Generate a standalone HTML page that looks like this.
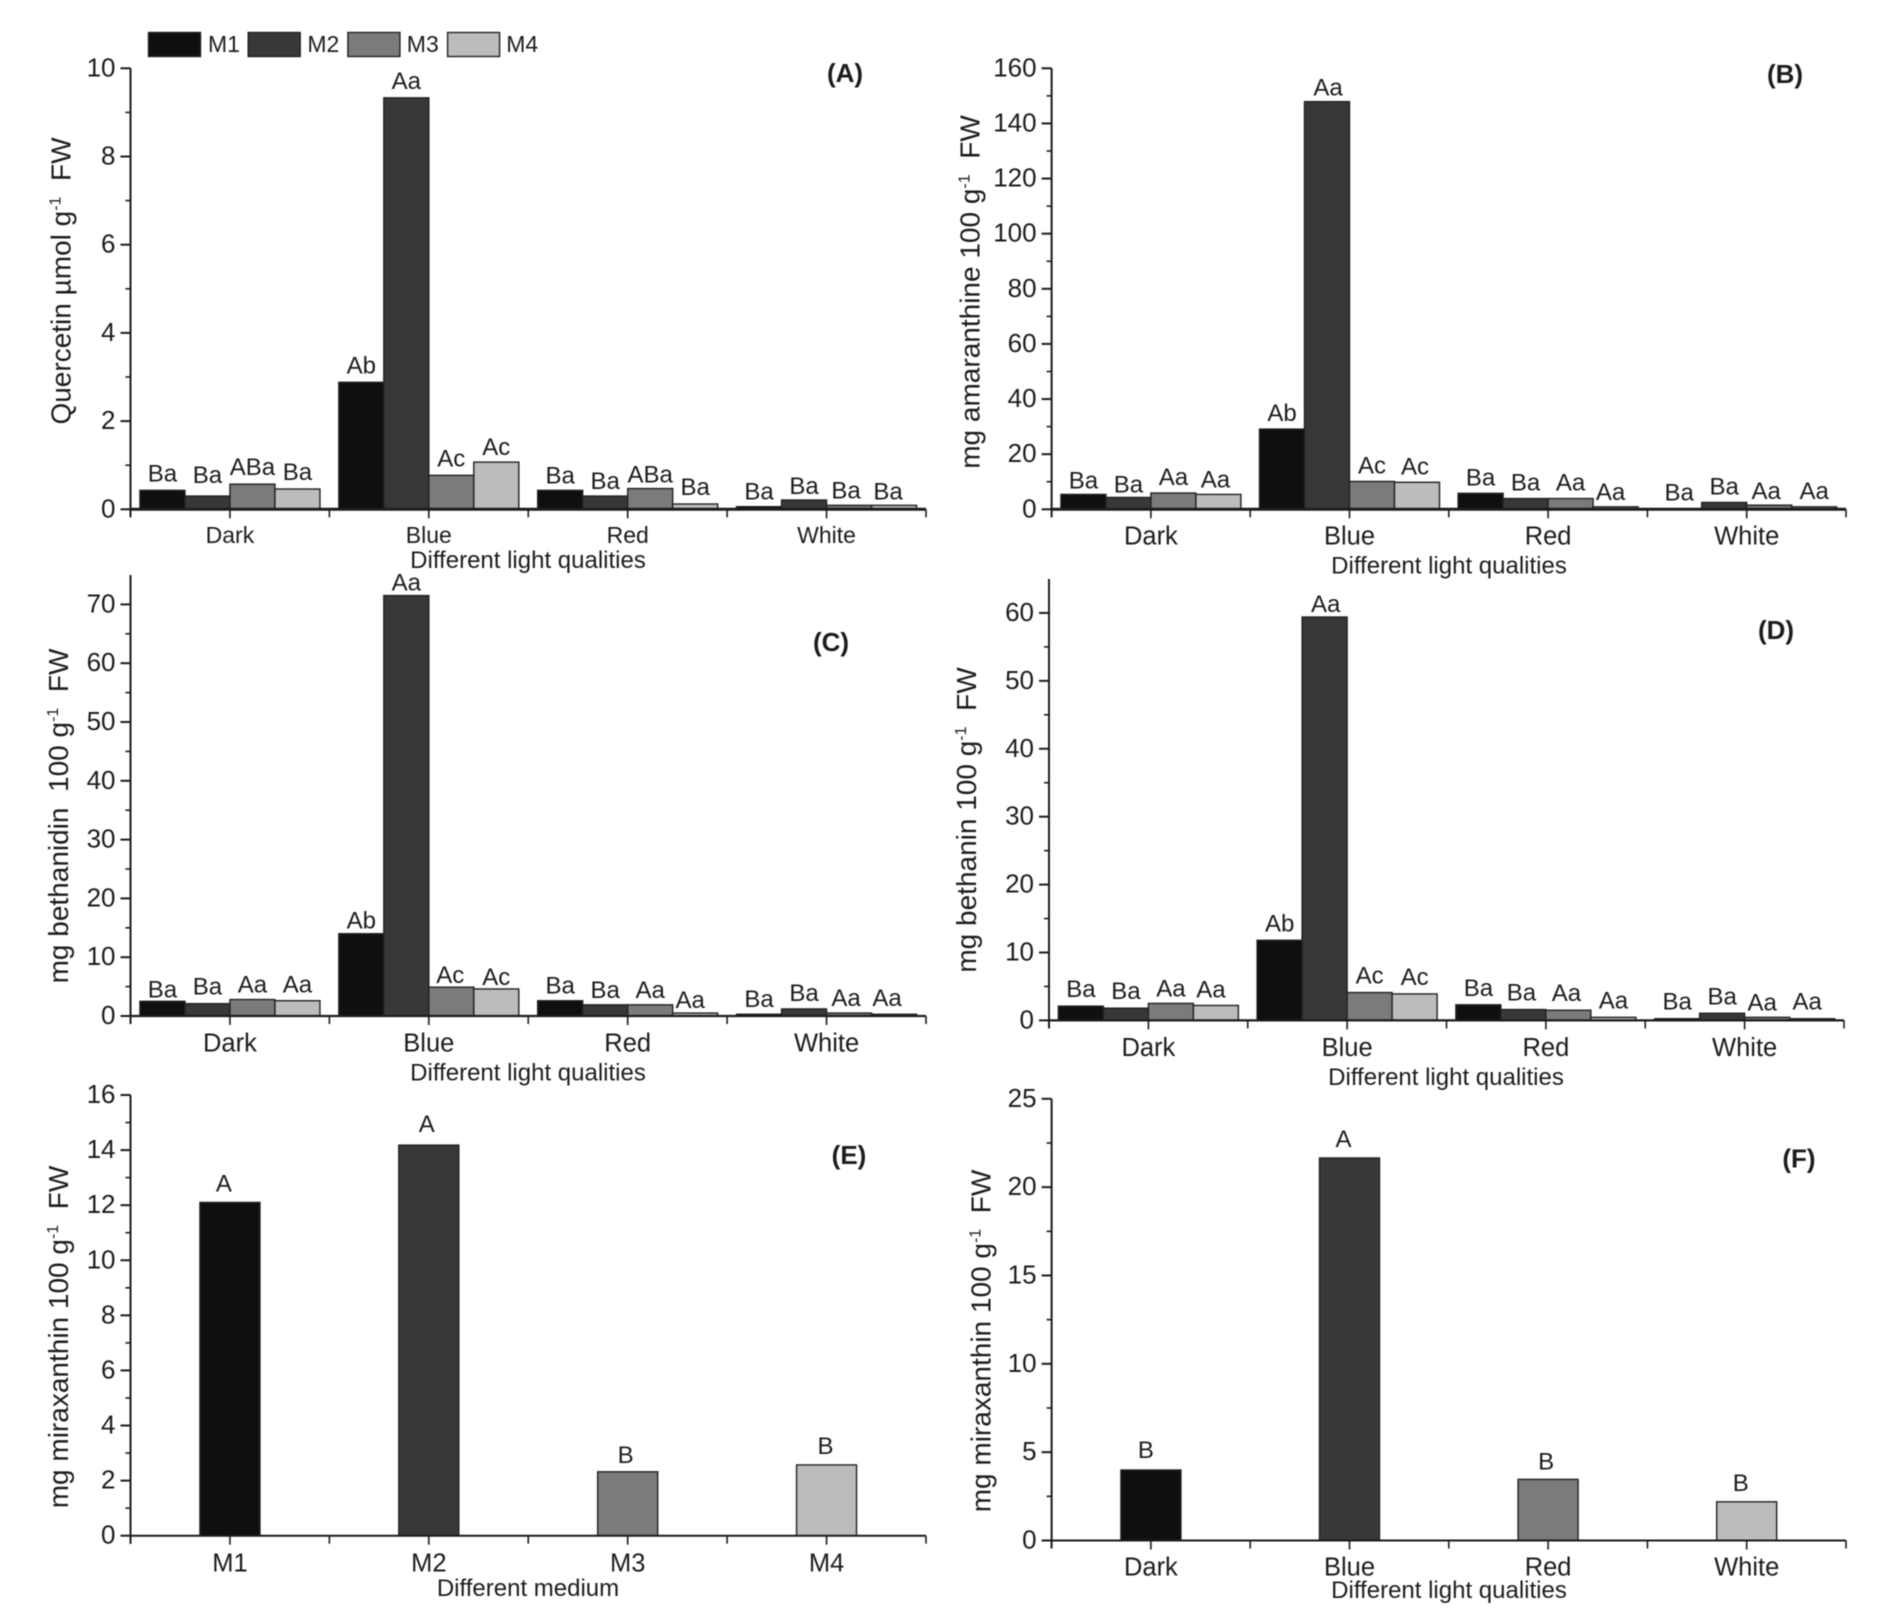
<!DOCTYPE html>
<html lang="en">
<head>
<meta charset="utf-8">
<title>Phytochemical content under different light qualities and media</title>
<style>
  html, body { margin: 0; padding: 0; background: #fff; }
  #figure { display: block; width: 1892px; height: 1616px; filter: blur(0.5px); }
  text { font-family: "Liberation Sans", Arial, sans-serif; fill: #1c1c1c; }
</style>
</head>
<body>
<svg id="figure" xmlns="http://www.w3.org/2000/svg" width="1892" height="1616" viewBox="0 0 1892 1616"></svg>
<script>
const lightCategories = ['Dark', 'Blue', 'Red', 'White'];
const mediumCategories = ['M1', 'M2', 'M3', 'M4'];
const seriesColors = ['#0f0f0d', '#383838', '#7a7b7d', '#bcbcba'];

const quercetinDark = [0.43, 0.30, 0.57, 0.46];
const quercetinBlue = [2.88, 9.33, 0.77, 1.07];
const quercetinRed = [0.43, 0.30, 0.47, 0.12];
const quercetinWhite = [0.06, 0.21, 0.09, 0.09];
const quercetinLabels = [['Ba', 'Ba', 'ABa', 'Ba'], ['Ab', 'Aa', 'Ac', 'Ac'], ['Ba', 'Ba', 'ABa', 'Ba'], ['Ba', 'Ba', 'Ba', 'Ba']];
const quercetinTicks = [0, 2, 4, 6, 8, 10];

const amaranthineDark = [5.4, 4.3, 5.9, 5.4];
const amaranthineBlue = [29.1, 147.9, 10.1, 9.8];
const amaranthineRed = [5.8, 3.9, 3.9, 0.9];
const amaranthineWhite = [0.2, 2.5, 1.5, 0.9];
const amaranthineLabels = [['Ba', 'Ba', 'Aa', 'Aa'], ['Ab', 'Aa', 'Ac', 'Ac'], ['Ba', 'Ba', 'Aa', 'Aa'], ['Ba', 'Ba', 'Aa', 'Aa']];
const amaranthineTicks = [0, 20, 40, 60, 80, 100, 120, 140, 160];

const bethanidinDark = [2.5, 2.1, 2.8, 2.6];
const bethanidinBlue = [14.0, 71.5, 4.9, 4.6];
const bethanidinRed = [2.6, 1.9, 1.9, 0.5];
const bethanidinWhite = [0.3, 1.2, 0.5, 0.3];
const bethanidinLabels = [['Ba', 'Ba', 'Aa', 'Aa'], ['Ab', 'Aa', 'Ac', 'Ac'], ['Ba', 'Ba', 'Aa', 'Aa'], ['Ba', 'Ba', 'Aa', 'Aa']];
const bethanidinTicks = [0, 10, 20, 30, 40, 50, 60, 70];

const bethaninDark = [2.1, 1.8, 2.5, 2.2];
const bethaninBlue = [11.8, 59.4, 4.1, 3.9];
const bethaninRed = [2.3, 1.6, 1.5, 0.45];
const bethaninWhite = [0.25, 1.05, 0.45, 0.25];
const bethaninLabels = [['Ba', 'Ba', 'Aa', 'Aa'], ['Ab', 'Aa', 'Ac', 'Ac'], ['Ba', 'Ba', 'Aa', 'Aa'], ['Ba', 'Ba', 'Aa', 'Aa']];
const bethaninTicks = [0, 10, 20, 30, 40, 50, 60];

const miraxanthinByMedium = [12.1, 14.18, 2.32, 2.57];
const miraxanthinMediumLabels = ['A', 'A', 'B', 'B'];
const miraxanthinMediumTicks = [0, 2, 4, 6, 8, 10, 12, 14, 16];

const miraxanthinByLight = [3.99, 21.65, 3.46, 2.19];
const miraxanthinLightLabels = ['B', 'A', 'B', 'B'];
const miraxanthinLightTicks = [0, 5, 10, 15, 20, 25];

const svg = document.getElementById('figure');
const NS = 'http://www.w3.org/2000/svg';

function make(tag, attrs, parent) {
  const el = document.createElementNS(NS, tag);
  for (const k in attrs) el.setAttribute(k, attrs[k]);
  parent.appendChild(el);
  return el;
}

function drawPanel(p) {
  const g = make('g', {}, svg);
  
  

  const yScale = v => p.y0 - v / p.yMax * (p.y0 - p.yTop);
  const catW = (p.x1 - p.x0) / p.categories.length;
  const catX = i => p.x0 + (i + 0.5) * catW;
  // hand-placed annotation offsets, keyed "category-bar"
  const shift = key => (p.shifts && p.shifts[key]) || [0, 0];

  // bars
  if (p.groups) {
    p.groups.forEach((vals, i) => {
      vals.forEach((v, j) => {
        const bx = catX(i) - p.barW * vals.length / 2 + j * p.barW;
        const bar = make('rect', { x: bx, y: yScale(v), width: p.barW, height: p.y0 - yScale(v), fill: seriesColors[j], stroke: '#222', 'stroke-width': 1.4 }, g);
        
        
        const s = shift(i + '-' + j);
        const lab = make('text', { x: bx + p.barW / 2 + s[0], y: yScale(v) - p.gap + s[1], 'font-size': 24, 'text-anchor': 'middle' }, g);
        lab.textContent = p.labels[i][j];
        
        
      });
    });
  } else {
    p.values.forEach((v, i) => {
      const bar = make('rect', { x: catX(i) - p.barW / 2, y: yScale(v), width: p.barW, height: p.y0 - yScale(v), fill: seriesColors[i], stroke: '#222', 'stroke-width': 1.4 }, g);
      
      
      const s = shift(String(i));
      const lab = make('text', { x: catX(i) - 6 + s[0], y: yScale(v) - p.gap + s[1], 'font-size': 24, 'text-anchor': 'middle' }, g);
      lab.textContent = p.labels[i];
      
      
    });
  }

  // axes
  const yAxis = make('line', { x1: p.x0, x2: p.x0, y1: p.yTop, y2: p.y0 + 8, stroke: '#1c1c1c', 'stroke-width': 2 }, g);
  
  
  const xAxis = make('line', { x1: p.x0, x2: p.x1, y1: p.y0, y2: p.y0, stroke: '#1c1c1c', 'stroke-width': p.axisW }, g);
  
  

  // y ticks
  p.ticks.forEach((t, i) => {
    const tk = make('line', { x1: p.x0 - 10, x2: p.x0, y1: yScale(t), y2: yScale(t), stroke: '#1c1c1c', 'stroke-width': 2 }, g);
    
    
    const lab = make('text', { x: p.x0 - 15, y: yScale(t) + 8, 'font-size': 26, 'text-anchor': 'end' }, g);
    lab.textContent = t;
    
    
    if (i < p.ticks.length - 1) {
      const mv = (t + p.ticks[i + 1]) / 2;
      const mk = make('line', { x1: p.x0 - 5, x2: p.x0, y1: yScale(mv), y2: yScale(mv), stroke: '#1c1c1c', 'stroke-width': 1.6 }, g);
      
      
    }
  });

  // x ticks and category labels
  for (let i = 0; i <= p.categories.length; i++) {
    const bt = make('line', { x1: p.x0 + i * catW, x2: p.x0 + i * catW, y1: p.y0, y2: p.y0 + 8, stroke: '#1c1c1c', 'stroke-width': 1.6 }, g);
    
    
  }
  p.categories.forEach((c, i) => {
    const tk = make('line', { x1: catX(i), x2: catX(i), y1: p.y0, y2: p.y0 + 9, stroke: '#1c1c1c', 'stroke-width': 1.6 }, g);
    
    
    const lab = make('text', { x: catX(i), y: p.catY, 'font-size': p.catSize, 'text-anchor': 'middle' }, g);
    lab.textContent = c;
    
    
  });

  // x axis title
  const xt = make('text', { x: p.xTitleX, y: p.xTitleY, 'font-size': 24, 'text-anchor': 'middle' }, g);
  xt.textContent = p.xTitle;
  
  

  // y axis title with superscript
  const yt = make('text', { x: p.yTitleX, y: p.yTitleY, 'font-size': 28, 'text-anchor': 'middle', transform: 'rotate(-90 ' + p.yTitleX + ' ' + p.yTitleY + ')', fill: '#2a2a2a' }, g);
  
  
  make('tspan', {}, yt).textContent = p.yTitle;
  make('tspan', { dy: -10, 'font-size': 16 }, yt).textContent = '-1';
  make('tspan', { dy: 10 }, yt).textContent = '\u00a0\u00a0FW';

  // panel letter
  const pl = make('text', { x: p.tagX, y: p.tagY, 'font-size': 26, 'font-weight': 'bold', 'text-anchor': 'middle' }, g);
  pl.textContent = '(' + p.letter + ')';
  
  
}

drawPanel({ letter: 'A', x0: 130.5, x1: 926, y0: 509.3, yTop: 68.3, yMax: 10, ticks: quercetinTicks,
  categories: lightCategories, groups: [quercetinDark, quercetinBlue, quercetinRed, quercetinWhite], labels: quercetinLabels,
  barW: 45, gap: 9, axisW: 3, catY: 543, catSize: 23, xTitle: 'Different light qualities', xTitleX: 528, xTitleY: 568,
  yTitle: 'Quercetin \u00b5mol g', yTitleX: 70.5, yTitleY: 281, tagX: 845, tagY: 82,
  shifts: { '0-1': [0, -4], '1-3': [0, 2], '2-0': [0, 2], '2-1': [0, 2], '2-2': [0, 3], '3-0': [0, 2], '3-1': [0, 3], '3-2': [-3, 2], '3-3': [-6, 3] } });

drawPanel({ letter: 'B', x0: 1051.6, x1: 1846, y0: 509.3, yTop: 68.3, yMax: 160, ticks: amaranthineTicks,
  categories: lightCategories, groups: [amaranthineDark, amaranthineBlue, amaranthineRed, amaranthineWhite], labels: amaranthineLabels,
  barW: 45, gap: 8, axisW: 3, catY: 544.5, catSize: 25.5, xTitle: 'Different light qualities', xTitleX: 1449, xTitleY: 573.5,
  yTitle: 'mg amaranthine 100 g', yTitleX: 979.5, yTitleY: 292, tagX: 1785, tagY: 83,
  shifts: { '0-0': [0, 2], '0-1': [0, 3], '0-3': [-3, 1], '1-1': [1, 2], '1-3': [-2, 0], '2-3': [-5, 1], '3-2': [-3, 2] } });

drawPanel({ letter: 'C', x0: 130.5, x1: 926, y0: 1016, yTop: 575, yMax: 75, ticks: bethanidinTicks,
  categories: lightCategories, groups: [bethanidinDark, bethanidinBlue, bethanidinRed, bethanidinWhite], labels: bethanidinLabels,
  barW: 45, gap: 9, axisW: 2.2, catY: 1051.5, catSize: 25.5, xTitle: 'Different light qualities', xTitleX: 528, xTitleY: 1080.5,
  yTitle: 'mg bethanidin\u00a0 100 g', yTitleX: 68, yTitleY: 816, tagX: 831, tagY: 651,
  shifts: { '0-0': [0, 5], '0-2': [0, 2], '0-3': [0, 1], '1-0': [0, 4], '1-1': [0, 4], '1-2': [-1, 5], '1-3': [0, 5], '2-0': [0, 2], '2-1': [0, 2], '2-2': [0, 2], '2-3': [-5, 4], '3-0': [0, 2], '3-1': [0, 1], '3-2': [-3, 2], '3-3': [-7, 1] } });

drawPanel({ letter: 'D', x0: 1049, x1: 1844, y0: 1020.4, yTop: 579, yMax: 65, ticks: bethaninTicks,
  categories: lightCategories, groups: [bethaninDark, bethaninBlue, bethaninRed, bethaninWhite], labels: bethaninLabels,
  barW: 45, gap: 9, axisW: 2.2, catY: 1056, catSize: 25.5, xTitle: 'Different light qualities', xTitleX: 1446, xTitleY: 1085,
  yTitle: 'mg bethanin 100 g', yTitleX: 976, yTitleY: 820, tagX: 1776, tagY: 639,
  shifts: { '0-2': [0, 2], '0-3': [-5, 1], '1-1': [1, 4], '2-1': [-2, 0], '2-2': [-2, 0], '3-2': [-5, 2], '3-3': [-5, 0] } });

drawPanel({ letter: 'E', x0: 130.5, x1: 926, y0: 1535.7, yTop: 1095, yMax: 16, ticks: miraxanthinMediumTicks,
  categories: mediumCategories, values: miraxanthinByMedium, labels: miraxanthinMediumLabels,
  barW: 60, gap: 11, axisW: 2, catY: 1571.5, catSize: 25.5, xTitle: 'Different medium', xTitleX: 528, xTitleY: 1596,
  yTitle: 'mg miraxanthin 100 g', yTitleX: 68, yTitleY: 1337, tagX: 849, tagY: 1164,
  shifts: { '1': [4, -2], '2': [4, 2], '3': [5, 0] } });

drawPanel({ letter: 'F', x0: 1051.6, x1: 1846, y0: 1540.5, yTop: 1098.8, yMax: 25, ticks: miraxanthinLightTicks,
  categories: lightCategories, values: miraxanthinByLight, labels: miraxanthinLightLabels,
  barW: 60, gap: 11, axisW: 2, catY: 1575.5, catSize: 25.5, xTitle: 'Different light qualities', xTitleX: 1449, xTitleY: 1598,
  yTitle: 'mg miraxanthin 100 g', yTitleX: 990.5, yTitleY: 1341, tagX: 1799, tagY: 1167.5,
  shifts: { '0': [1, -1], '2': [4, 1] } });

// legend
const legend = make('g', {}, svg);


mediumCategories.forEach((m, i) => {
  const sw = make('rect', { x: 148.5 + i * 99.7, y: 32.5, width: 52, height: 24, fill: seriesColors[i], stroke: '#222', 'stroke-width': 1.4 }, legend);
  
  
  const tx = make('text', { x: 208 + i * 99.4, y: 52, 'font-size': 23 }, legend);
  tx.textContent = m;
  
  
});
</script>
</body>
</html>
